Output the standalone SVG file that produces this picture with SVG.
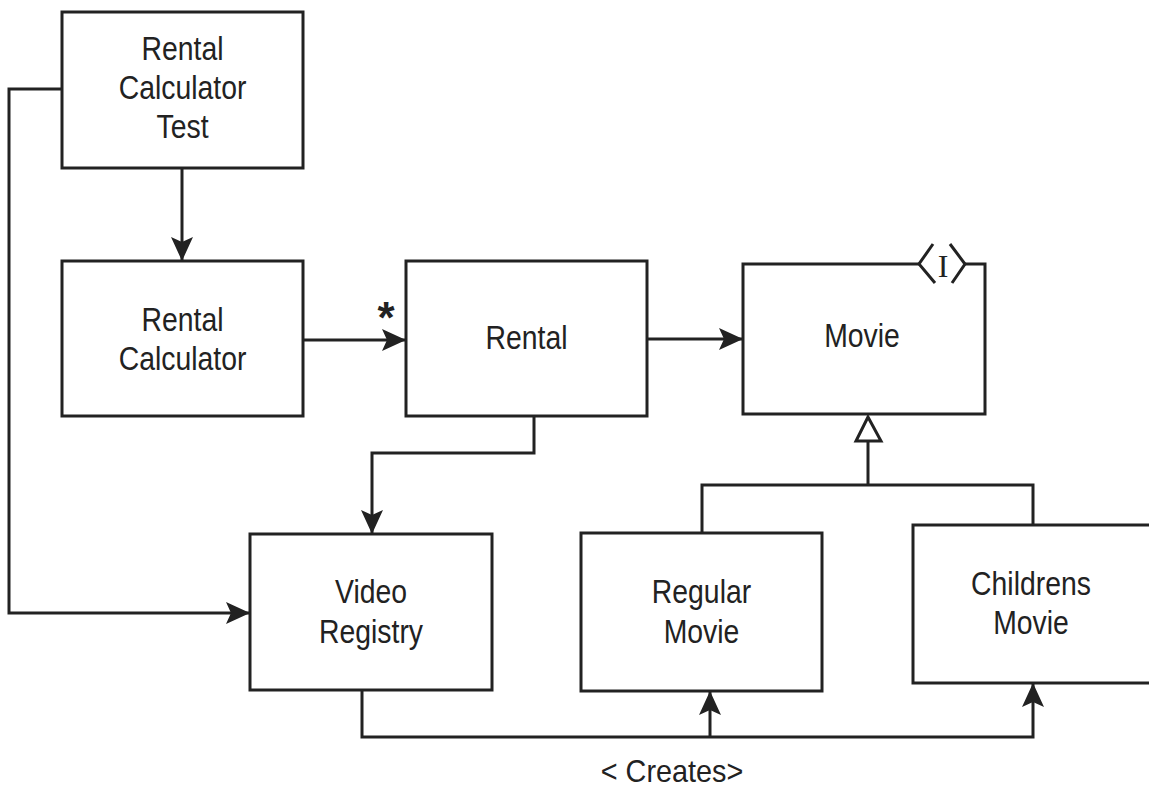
<svg xmlns="http://www.w3.org/2000/svg" width="1149" height="789" viewBox="0 0 1149 789">
<style>
.box{fill:#fff;stroke:#222;stroke-width:3}
.ln{fill:none;stroke:#222;stroke-width:3}
.t{font-family:"Liberation Sans",Arial,sans-serif;font-size:33px;fill:#222;text-anchor:middle}
</style>
<defs>
<marker id="arr" markerUnits="userSpaceOnUse" viewBox="0 0 24 22" refX="24" refY="11" markerWidth="24" markerHeight="22" orient="auto">
<path d="M0,0 L24,11 L0,22 L5,11 z" fill="#222"/>
</marker>
</defs>
<rect width="1149" height="789" fill="#fff"/>
<g id="connectors">
<path class="ln" d="M182,168 V261" marker-end="url(#arr)"/>
<path class="ln" d="M62,89 H9 V613 H250" marker-end="url(#arr)"/>
<path class="ln" d="M303,340 H406" marker-end="url(#arr)"/>
<path class="ln" d="M647,339 H743" marker-end="url(#arr)"/>
<path class="ln" d="M534,416 V453 H372 V534" marker-end="url(#arr)"/>
<path class="ln" d="M702,533 V485 H1033 V525"/>
<path class="ln" d="M868,485 V441"/>
<polygon points="868,417 856,441 881,441" fill="#fff" stroke="#222" stroke-width="3" stroke-linejoin="miter"/>
<path class="ln" d="M362,690 V737 H1033 V683" marker-end="url(#arr)"/>
<path class="ln" d="M710,737 V691" marker-end="url(#arr)"/>
<text x="386" y="333" font-family="Liberation Sans,Arial,sans-serif" font-size="44" font-weight="bold" fill="#222" text-anchor="middle">*</text>
<text x="0" y="782" class="t" transform="translate(672,0) scale(0.9,1)" style="font-size:32px">&lt; Creates&gt;</text>
</g>
<g id="rental-calculator-test">
<rect class="box" x="62" y="12" width="241" height="156"/>
<g transform="translate(182.5,0) scale(0.86,1)">
<text class="t" x="0" y="60">Rental</text>
<text class="t" x="0" y="99">Calculator</text>
<text class="t" x="0" y="138">Test</text>
</g>
</g>
<g id="rental-calculator">
<rect class="box" x="62" y="261" width="241" height="155"/>
<g transform="translate(182.5,0) scale(0.86,1)">
<text class="t" x="0" y="331">Rental</text>
<text class="t" x="0" y="370">Calculator</text>
</g>
</g>
<g id="rental">
<rect class="box" x="406" y="261" width="241" height="155"/>
<g transform="translate(526.5,0) scale(0.86,1)">
<text class="t" x="0" y="349">Rental</text>
</g>
</g>
<g id="movie">
<path class="box" d="M919,264 H743 V414 H985 V264 H965"/>
<polyline class="ln" points="933,244 919,264 935,283"/>
<polyline class="ln" points="950,244 965,264 952,283"/>
<text x="943" y="277" font-family="Liberation Serif,Times New Roman,serif" font-size="32" fill="#222" text-anchor="middle">I</text>
<g transform="translate(862,0) scale(0.86,1)">
<text class="t" x="0" y="347">Movie</text>
</g>
</g>
<g id="video-registry">
<rect class="box" x="250" y="534" width="242" height="156"/>
<g transform="translate(371,0) scale(0.86,1)">
<text class="t" x="0" y="603">Video</text>
<text class="t" x="0" y="643">Registry</text>
</g>
</g>
<g id="regular-movie">
<rect class="box" x="581" y="533" width="241" height="158"/>
<g transform="translate(701.5,0) scale(0.86,1)">
<text class="t" x="0" y="603">Regular</text>
<text class="t" x="0" y="643">Movie</text>
</g>
</g>
<g id="childrens-movie">
<rect class="box" x="913" y="525" width="245" height="158"/>
<g transform="translate(1031,0) scale(0.86,1)">
<text class="t" x="0" y="595">Childrens</text>
<text class="t" x="0" y="634">Movie</text>
</g>
</g>
</svg>
